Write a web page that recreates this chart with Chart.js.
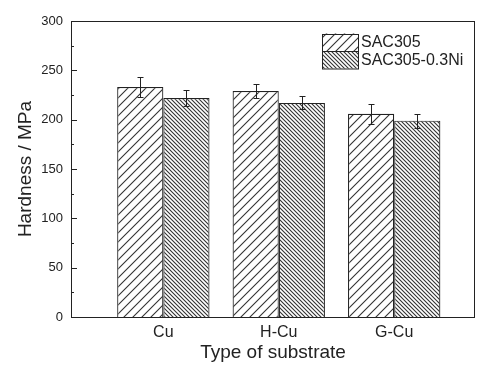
<!DOCTYPE html>
<html>
<head>
<meta charset="utf-8">
<script src="https://cdn.jsdelivr.net/npm/chart.js@4.4.1/dist/chart.umd.min.js"></script>
<style>
  body { margin: 0; background: #fff; }
  #wrap { width: 484px; height: 366px; }
</style>
</head>
<body>
<div id="wrap"><canvas id="chart"></canvas></div>
<script>
////////////
//// Data

let categories = ['Cu', 'H-Cu', 'G-Cu'];
let positions = [1, 2, 3];
let seriesNames = ['SAC305', 'SAC305-0.3Ni'];
let sac305 = [233, 229, 206];
let sac305Err = [10, 7.5, 10];
let sac305Ni = [222, 217, 199];
let sac305NiErr = [8, 6.5, 7];
let yTicks = [0, 50, 100, 150, 200, 250, 300];

let FONT = 'Liberation Sans, Arial, sans-serif';
let INK = '#222';

////////////
//// Hatch patterns

function makeHatch(size, forward, width) {
	let c = document.createElement('canvas');
	c.width = size;
	c.height = size;
	let g = c.getContext('2d');
	g.fillStyle = '#fff';
	g.fillRect(0, 0, size, size);
	g.strokeStyle = '#333';
	g.lineWidth = width;
	g.beginPath();
	if (forward) {
		g.moveTo(-1, size + 1); g.lineTo(size + 1, -1);
		g.moveTo(-1, 1); g.lineTo(1, -1);
		g.moveTo(size - 1, size + 1); g.lineTo(size + 1, size - 1);
	} else {
		g.moveTo(-1, -1); g.lineTo(size + 1, size + 1);
		g.moveTo(size - 1, -1); g.lineTo(size + 1, 1);
		g.moveTo(-1, size - 1); g.lineTo(1, size + 1);
	}
	g.stroke();
	return g.createPattern(c, 'repeat');
}

let hatchA = makeHatch(9, true, 1.1);
let hatchB = makeHatch(4, false, 1.1);

////////////
//// Plugins

let errorBars = {
	id: 'errorBars',
	afterDatasetsDraw(chart) {
		let ctx = chart.ctx;
		let y = chart.scales.y;
		let errs = [sac305Err, sac305NiErr];
		ctx.save();
		ctx.strokeStyle = INK;
		ctx.lineWidth = 1;
		chart.data.datasets.forEach((ds, d) => {
			let meta = chart.getDatasetMeta(d);
			meta.data.forEach((bar, i) => {
				let v = ds.data[i].y;
				let top = Math.round(y.getPixelForValue(v + errs[d][i])) + 0.5;
				let bot = Math.round(y.getPixelForValue(v - errs[d][i])) + 0.5;
				let x = Math.round(bar.x) + 0.5;
				ctx.beginPath();
				ctx.moveTo(x, top); ctx.lineTo(x, bot);
				ctx.moveTo(x - 3, top); ctx.lineTo(x + 3, top);
				ctx.moveTo(x - 3, bot); ctx.lineTo(x + 3, bot);
				ctx.stroke();
			});
		});
		ctx.restore();
	}
};

let frame = {
	id: 'frame',
	afterDraw(chart) {
		let ctx = chart.ctx;
		let a = chart.chartArea;
		let y = chart.scales.y;
		ctx.save();
		ctx.strokeStyle = INK;
		ctx.lineWidth = 1;
		ctx.strokeRect(Math.round(a.left) + 0.5, Math.round(a.top) + 0.5,
			Math.round(a.right - a.left) - 1, Math.round(a.bottom - a.top));
		// inward ticks on the left axis
		ctx.beginPath();
		y.ticks.forEach(t => {
			let py = Math.round(y.getPixelForValue(t.value)) + 0.5;
			let len = t.value % 50 === 0 ? 6 : 3;
			ctx.moveTo(a.left, py);
			ctx.lineTo(a.left + len, py);
		});
		ctx.stroke();

		// legend
		let lx = 322, ly = 33.5, bw = 36, bh = 17.5;
		let fills = [hatchA, hatchB];
		ctx.font = '16px ' + FONT;
		ctx.textBaseline = 'middle';
		ctx.fillStyle = INK;
		seriesNames.forEach((name, i) => {
			let by = ly + i * bh;
			ctx.fillStyle = fills[i];
			ctx.fillRect(lx, by, bw, bh);
			ctx.strokeRect(lx + 0.5, Math.round(by) + 0.5, bw, bh);
			ctx.fillStyle = INK;
			ctx.fillText(name, lx + bw + 3, by + bh / 2 + 0.5);
		});
		ctx.restore();
	}
};

////////////
//// Chart

function points(values) {
	return values.map((v, i) => ({ x: positions[i], y: v }));
}

let ctx = document.getElementById('chart').getContext('2d');
let chart = new Chart(ctx, {
	type: 'bar',
	data: {
		datasets: [
			{ label: seriesNames[0], data: points(sac305), backgroundColor: hatchA,
				borderColor: INK, borderWidth: 1.2 },
			{ label: seriesNames[1], data: points(sac305Ni), backgroundColor: hatchB,
				borderColor: INK, borderWidth: 1.2 }
		]
	},
	options: {
		responsive: true,
		maintainAspectRatio: false,
		animation: false,
		layout: { padding: { top: 21, right: 9, left: 0, bottom: 0 } },
		datasets: { bar: { categoryPercentage: 0.8, barPercentage: 1 } },
		plugins: { legend: { display: false }, tooltip: { enabled: false } },
		scales: {
			x: {
				type: 'linear',
				min: 0.2,
				max: 3.7,
				offset: false,
				afterBuildTicks: s => { s.ticks = positions.map(p => ({ value: p })); },
				afterFit: s => { s.height = 49; },
				grid: { display: false, drawTicks: false },
				border: { display: false },
				ticks: {
					padding: 6,
					color: INK,
					font: { family: FONT, size: 16 },
					callback: v => categories[positions.indexOf(v)]
				},
				title: {
					display: true,
					text: 'Type of substrate',
					color: INK,
					font: { family: FONT, size: 19 },
					padding: { top: 0, bottom: 2 }
				}
			},
			y: {
				min: 0,
				max: 300,
				afterFit: s => { s.width = 71; },
				afterBuildTicks: s => {
					let t = [];
					for (let v = 0; v <= 300; v += 25) t.push({ value: v });
					s.ticks = t;
				},
				grid: { display: false, drawTicks: false },
				border: { display: false },
				ticks: {
					padding: 8,
					color: INK,
					font: { family: FONT, size: 13 },
					callback: v => yTicks.includes(v) ? String(v) : ''
				},
				title: {
					display: true,
					text: 'Hardness / MPa',
					color: INK,
					font: { family: FONT, size: 19 },
					padding: { top: 14, bottom: 0 }
				}
			}
		}
	},
	plugins: [errorBars, frame]
});
</script>
</body>
</html>
